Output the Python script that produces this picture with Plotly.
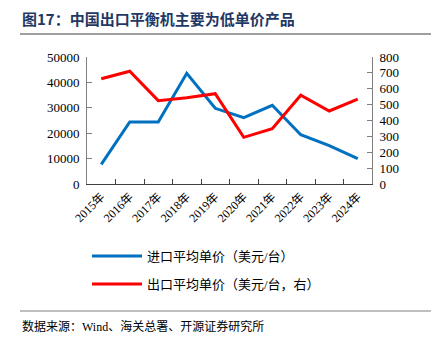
import plotly.graph_objects as go

years = ["2015年", "2016年", "2017年", "2018年", "2019年", "2020年", "2021年", "2022年", "2023年", "2024年"]
import_price = [7750, 24400, 24400, 43600, 29800, 26100, 31000, 19400, 15100, 9950]
export_price = [663, 710, 525, 544, 569, 294, 349, 559, 460, 535]

name_import = "进口平均单价（美元/台）"
name_export = "出口平均单价（美元/台，右）"

cjk = "Liberation Serif, Noto Sans CJK SC"
fig = go.Figure()
fig.add_trace(go.Scatter(x=years, y=import_price, name=name_import, mode="lines", legendgroup="a",
                         line=dict(color="#0070C0", width=3)))
fig.add_trace(go.Scatter(x=years, y=export_price, name=name_export, mode="lines", legendgroup="b",
                         line=dict(color="#FF0000", width=3), yaxis="y2"))

axis_col = "#808080"
fig.update_layout(
    width=436, height=350,
    margin=dict(l=87, r=64, t=57, b=166),
    paper_bgcolor="white", plot_bgcolor="white",
    font=dict(family=cjk, size=13, color="#000"),
    showlegend=True,
    legend=dict(x=0.0, y=-0.45, xanchor="left", yanchor="top", orientation="v",
                font=dict(family=cjk, size=13), tracegroupgap=8, itemwidth=50,
                bgcolor="rgba(0,0,0,0)"),
    xaxis=dict(type="category", showline=True, linecolor="#404040", linewidth=1,
               ticks="inside", ticklen=5, tickcolor="#404040", tickson="boundaries",
               tickangle=-45, showgrid=False, tickfont=dict(size=12, family=cjk),
               range=[-0.5, 9.5]),
    yaxis=dict(range=[0, 50000], dtick=10000, tickformat="d", showline=True, linecolor=axis_col, linewidth=1,
               ticks="inside", ticklen=5, tickcolor=axis_col, showgrid=False, zeroline=False,
               tickfont=dict(size=13, family="Liberation Serif"), ticklabelstandoff=4),
    yaxis2=dict(range=[0, 800], dtick=100, overlaying="y", side="right", showline=True,
                linecolor=axis_col, linewidth=1, ticks="inside", ticklen=5, tickcolor=axis_col,
                showgrid=False, zeroline=False, tickfont=dict(size=13, family="Liberation Serif"),
                ticklabelstandoff=4),
)
fig.add_annotation(text="<b>图17：中国出口平衡机主要为低单价产品</b>", xref="paper", yref="paper",
                   x=(20 - 87) / 285, y=(350 - 166 - 18) / 127 + 0, xanchor="left", yanchor="middle",
                   showarrow=False, font=dict(size=15, color="#1F3864", family="Noto Sans CJK SC"))
fig.add_annotation(text="数据来源：Wind、海关总署、开源证券研究所", xref="paper", yref="paper",
                   x=(20 - 87) / 285, y=(184 - 326) / 127, xanchor="left", yanchor="middle",
                   showarrow=False, font=dict(size=12, color="#000", family=cjk))
fig.add_shape(type="line", xref="paper", yref="paper", x0=(20 - 87) / 285, x1=(431 - 87) / 285,
              y0=(184 - 34) / 127, y1=(184 - 34) / 127, line=dict(color="#404040", width=1))
fig.add_shape(type="line", xref="paper", yref="paper", x0=(20 - 87) / 285, x1=(431 - 87) / 285,
              y0=(184 - 311) / 127, y1=(184 - 311) / 127, line=dict(color="#808080", width=1))
fig.write_html("out.html")
